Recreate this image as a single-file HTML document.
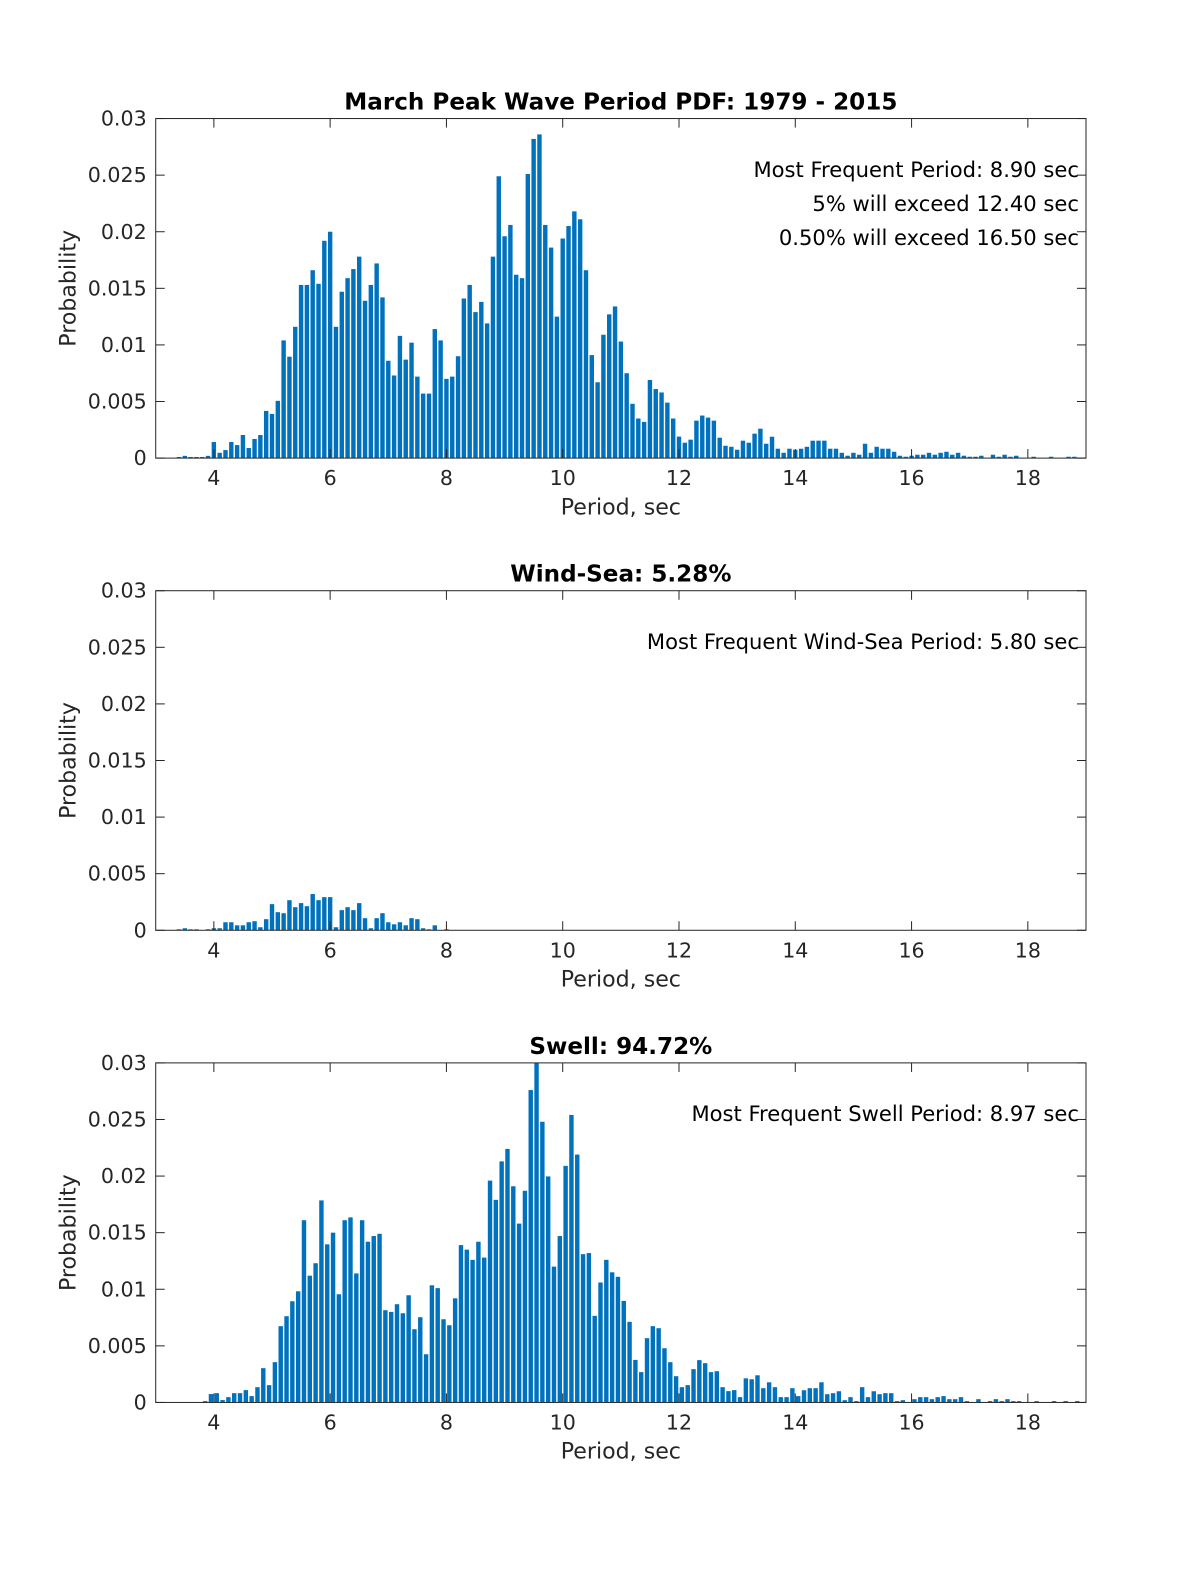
<!DOCTYPE html>
<html><head><meta charset="utf-8"><style>
html,body{margin:0;padding:0;background:#fff;overflow:hidden;width:1200px;height:1575px;}
svg{display:block;font-family:"DejaVu Sans","Liberation Sans",sans-serif;}
</style></head><body>
<svg id="fig" width="1200" height="1575" viewBox="0 0 1200 1575" xmlns="http://www.w3.org/2000/svg"><g id="root" transform="scale(1.00462)"></g></svg>
<script>
// ---- data (probability, in units of 0.001) ----
const allStart = 3.4;   // first bin centre, 0.1 s bins
const allProb = [0.1,0.2,0.1,0.1,0.1,0.2,1.42,0.47,0.71,1.42,1.15,2.04,0.89,1.69,2.04,4.17,3.9,5.06,10.4,8.96,11.6,15.3,15.3,16.6,15.4,19.2,20.0,11.6,14.7,15.9,16.7,17.8,13.9,15.3,17.2,14.2,8.6,7.3,10.8,8.7,10.2,7.2,5.7,5.7,11.4,10.4,7.0,7.2,9.0,14.1,15.3,12.9,13.8,11.9,17.8,24.9,19.6,20.6,16.2,15.9,25.1,28.2,28.6,20.6,18.6,12.5,19.4,20.5,21.8,21.1,16.6,9.1,6.7,10.9,12.7,13.4,10.3,7.5,4.8,3.5,3.2,6.9,6.1,5.8,4.9,3.5,1.9,1.36,1.63,3.31,3.76,3.58,3.31,1.8,1.09,1.0,0.74,1.54,1.36,2.16,2.6,1.27,1.89,0.83,0.47,0.83,0.74,0.83,1.0,1.54,1.54,1.54,0.83,0.83,0.47,0.21,0.47,0.3,1.27,0.47,1.0,0.83,0.83,0.56,0.21,0.12,0.21,0.3,0.3,0.47,0.3,0.47,0.56,0.3,0.47,0.21,0.12,0.12,0.21,0,0.3,0.12,0.3,0.12,0.21,0,0,0.12,0,0,0.12,0,0,0.12,0.12];
const windStart = 3.4;
const windProb = [0.09,0.18,0.09,0.09,0,0.09,0.18,0.18,0.71,0.71,0.44,0.44,0.71,0.8,0.27,0.98,2.31,1.6,1.51,2.66,2.04,2.4,2.13,3.2,2.66,2.93,2.93,0.27,1.78,2.04,1.78,2.4,1.07,0.18,1.07,1.51,0.71,0.53,0.71,0.44,1.07,0.98,0.18,0.09,0.44,0,0.09];
const swellStart = 3.85;
const swellProb = [0.12,0.74,0.82,0.21,0.47,0.82,0.82,1.09,0.56,1.35,3.03,1.53,3.56,6.74,7.62,8.94,9.82,16.1,11.2,12.3,17.85,13.97,15.0,9.56,16.1,16.35,11.4,16.1,14.2,14.7,14.9,8.15,8.0,8.68,7.88,9.47,6.47,7.53,4.26,10.35,10.1,7.35,6.82,9.2,13.9,13.5,12.6,14.2,12.8,19.6,17.9,21.3,22.4,19.1,15.8,18.7,27.6,30.5,24.8,19.97,12.0,14.7,20.9,25.4,21.9,13.1,13.2,7.65,10.6,12.6,11.5,11.1,8.97,7.12,3.76,2.68,5.68,6.74,6.56,4.79,3.56,2.32,1.35,1.53,2.94,3.74,3.47,2.68,2.76,1.35,1.0,1.09,0.47,2.13,2.05,2.4,1.26,1.78,1.35,0.47,0.47,1.26,0.56,1.08,1.26,1.26,1.78,0.73,0.82,0.99,0.2,0.47,0.12,1.35,0.47,0.99,0.73,0.82,0.82,0.12,0.2,0,0.29,0.47,0.47,0.29,0.47,0.56,0.29,0.29,0.47,0.12,0,0.29,0,0.12,0.29,0.12,0.29,0.12,0.12,0,0,0.12,0,0,0.12,0,0.12,0,0.12];
const xTicks = [4,6,8,10,12,14,16,18];
const yTicks = [0,0.005,0.01,0.015,0.02,0.025,0.03];
const yTickLabels = ["0","0.005","0.01","0.015","0.02","0.025","0.03"];

const NS="http://www.w3.org/2000/svg";
const svg=document.getElementById('root');
const X0=155,X1=1081,XMIN=3,XMAX=19,YMAX=0.03,H=338,BIN=0.1;
function mk(tag,attrs,parent){const e=document.createElementNS(NS,tag);for(const k in attrs)e.setAttribute(k,attrs[k]);(parent||svg).appendChild(e);return e;}
function xs(v){return X0+(v-XMIN)/(XMAX-XMIN)*(X1-X0);}

function panel(top,title,start,vals,notes,key){
  const g=mk('g',{});
  
  
  const ys=v=>top+H-(Math.min(v,YMAX))/YMAX*H;
  const bw=(xs(BIN)-xs(0))*0.76;
  vals.forEach((p,i)=>{
    const v=p/1000; if(v<=0)return;
    const c=start+i*BIN;
    const r=mk('rect',{x:xs(c)-bw/2,y:ys(v),width:bw,height:top+H-ys(v),fill:'#0072BD'},g);
    
    
  });
  const box=mk('rect',{x:X0,y:top,width:X1-X0,height:H,fill:'none',stroke:'#262626','stroke-width':1},g);
  
  
  xTicks.forEach(t=>{
    const x=xs(t);
    mk('line',{x1:x,x2:x,y1:top+H,y2:top+H-9,stroke:'#262626'},g);
    mk('line',{x1:x,x2:x,y1:top,y2:top+9,stroke:'#262626'},g);
    const tx=mk('text',{x:x,y:top+H+27,'text-anchor':'middle','font-size':20.5,fill:'#262626'},g);
    tx.textContent=t;
    
    
  });
  yTicks.forEach((t,i)=>{
    const y=ys(t);
    mk('line',{x1:X0,x2:X0+9,y1:y,y2:y,stroke:'#262626'},g);
    mk('line',{x1:X1,x2:X1-9,y1:y,y2:y,stroke:'#262626'},g);
    const tx=mk('text',{x:146,y:y+7,'text-anchor':'end','font-size':20.5,fill:'#262626'},g);
    tx.textContent=yTickLabels[i];
    
    
  });
  const tt=mk('text',{x:618,y:top-9,'text-anchor':'middle','font-size':23,'font-weight':'bold',fill:'#000'},g);
  tt.textContent=title;
  
  
  const xl=mk('text',{x:618,y:top+H+56,'text-anchor':'middle','font-size':22,fill:'#262626'},g);
  xl.textContent='Period, sec';
  
  
  const yl=mk('text',{x:0,y:0,'text-anchor':'middle','font-size':22,fill:'#262626',transform:'translate(75,'+(top+169)+') rotate(-90)'},g);
  yl.textContent='Probability';
  
  
  notes.forEach((n,i)=>{
    const a=mk('text',{x:1074,y:top+58+i*34,'text-anchor':'end','font-size':21,fill:'#000'},g);
    a.textContent=n;
    
    
  });
}
panel(118,'March Peak Wave Period PDF: 1979 - 2015',allStart,allProb,['Most Frequent Period: 8.90 sec','5% will exceed 12.40 sec','0.50% will exceed 16.50 sec'],'all');
panel(588,'Wind-Sea: 5.28%',windStart,windProb,['Most Frequent Wind-Sea Period: 5.80 sec'],'windsea');
panel(1058,'Swell: 94.72%',swellStart,swellProb,['Most Frequent Swell Period: 8.97 sec'],'swell');
</script>
</body></html>
